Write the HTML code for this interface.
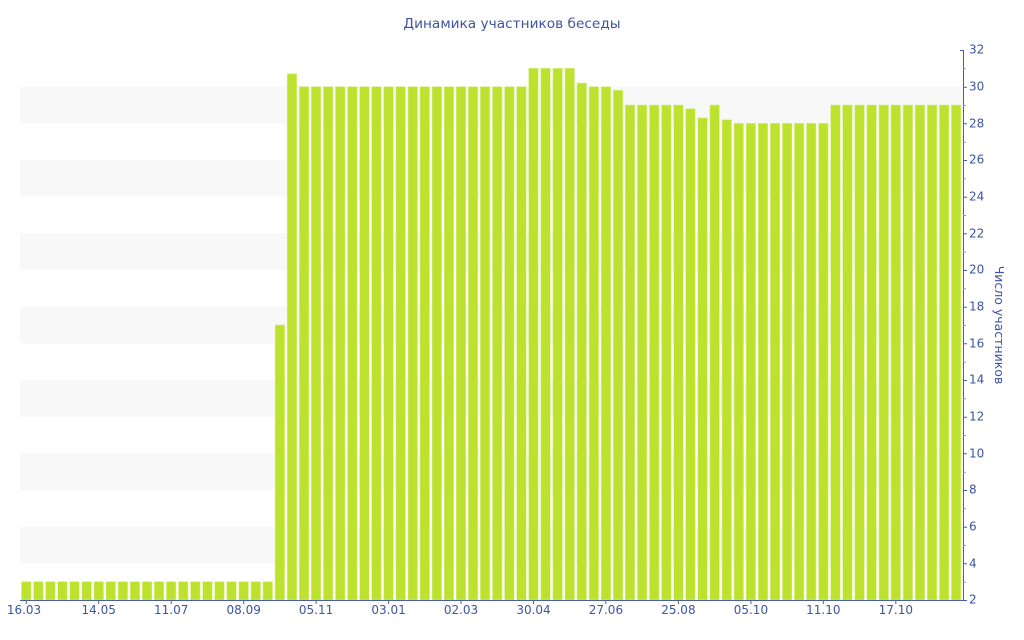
<!DOCTYPE html>
<html><head><meta charset="utf-8"><style>
html,body{margin:0;padding:0;background:#fff;}
svg{display:block;font-family:"DejaVu Sans","Liberation Sans",sans-serif;}
</style></head><body>
<svg width="1024" height="640" viewBox="0 0 1024 640">
<g fill="#f8f8f8">
<rect x="20" y="86.67" width="943" height="36.67"/>
<rect x="20" y="160" width="943" height="36.67"/>
<rect x="20" y="233.33" width="943" height="36.67"/>
<rect x="20" y="306.67" width="943" height="36.67"/>
<rect x="20" y="380" width="943" height="36.67"/>
<rect x="20" y="453.33" width="943" height="36.67"/>
<rect x="20" y="526.67" width="943" height="36.67"/>
</g>
<g fill="#bde22e" stroke="#d8ef8a" stroke-width="0.6">
<rect x="21.5" y="581.67" width="9.5" height="18.33"/>
<rect x="33.6" y="581.67" width="9.5" height="18.33"/>
<rect x="45.7" y="581.67" width="9.5" height="18.33"/>
<rect x="57.7" y="581.67" width="9.5" height="18.33"/>
<rect x="69.8" y="581.67" width="9.5" height="18.33"/>
<rect x="81.9" y="581.67" width="9.5" height="18.33"/>
<rect x="94.0" y="581.67" width="9.5" height="18.33"/>
<rect x="106.0" y="581.67" width="9.5" height="18.33"/>
<rect x="118.1" y="581.67" width="9.5" height="18.33"/>
<rect x="130.2" y="581.67" width="9.5" height="18.33"/>
<rect x="142.3" y="581.67" width="9.5" height="18.33"/>
<rect x="154.3" y="581.67" width="9.5" height="18.33"/>
<rect x="166.4" y="581.67" width="9.5" height="18.33"/>
<rect x="178.5" y="581.67" width="9.5" height="18.33"/>
<rect x="190.6" y="581.67" width="9.5" height="18.33"/>
<rect x="202.7" y="581.67" width="9.5" height="18.33"/>
<rect x="214.7" y="581.67" width="9.5" height="18.33"/>
<rect x="226.8" y="581.67" width="9.5" height="18.33"/>
<rect x="238.9" y="581.67" width="9.5" height="18.33"/>
<rect x="251.0" y="581.67" width="9.5" height="18.33"/>
<rect x="263.0" y="581.67" width="9.5" height="18.33"/>
<rect x="275.1" y="325" width="9.5" height="275"/>
<rect x="287.2" y="73.8" width="9.5" height="526.2"/>
<rect x="299.3" y="86.67" width="9.5" height="513.33"/>
<rect x="311.3" y="86.67" width="9.5" height="513.33"/>
<rect x="323.4" y="86.67" width="9.5" height="513.33"/>
<rect x="335.5" y="86.67" width="9.5" height="513.33"/>
<rect x="347.6" y="86.67" width="9.5" height="513.33"/>
<rect x="359.7" y="86.67" width="9.5" height="513.33"/>
<rect x="371.7" y="86.67" width="9.5" height="513.33"/>
<rect x="383.8" y="86.67" width="9.5" height="513.33"/>
<rect x="395.9" y="86.67" width="9.5" height="513.33"/>
<rect x="408.0" y="86.67" width="9.5" height="513.33"/>
<rect x="420.0" y="86.67" width="9.5" height="513.33"/>
<rect x="432.1" y="86.67" width="9.5" height="513.33"/>
<rect x="444.2" y="86.67" width="9.5" height="513.33"/>
<rect x="456.3" y="86.67" width="9.5" height="513.33"/>
<rect x="468.3" y="86.67" width="9.5" height="513.33"/>
<rect x="480.4" y="86.67" width="9.5" height="513.33"/>
<rect x="492.5" y="86.67" width="9.5" height="513.33"/>
<rect x="504.6" y="86.67" width="9.5" height="513.33"/>
<rect x="516.7" y="86.67" width="9.5" height="513.33"/>
<rect x="528.7" y="68.33" width="9.5" height="531.67"/>
<rect x="540.8" y="68.33" width="9.5" height="531.67"/>
<rect x="552.9" y="68.33" width="9.5" height="531.67"/>
<rect x="565.0" y="68.33" width="9.5" height="531.67"/>
<rect x="577.0" y="83.0" width="9.5" height="517"/>
<rect x="589.1" y="86.67" width="9.5" height="513.33"/>
<rect x="601.2" y="86.67" width="9.5" height="513.33"/>
<rect x="613.3" y="90.3" width="9.5" height="509.7"/>
<rect x="625.3" y="105" width="9.5" height="495"/>
<rect x="637.4" y="105" width="9.5" height="495"/>
<rect x="649.5" y="105" width="9.5" height="495"/>
<rect x="661.6" y="105" width="9.5" height="495"/>
<rect x="673.7" y="105" width="9.5" height="495"/>
<rect x="685.7" y="108.7" width="9.5" height="491.3"/>
<rect x="697.8" y="117.8" width="9.5" height="482.2"/>
<rect x="709.9" y="105" width="9.5" height="495"/>
<rect x="722.0" y="119.7" width="9.5" height="480.3"/>
<rect x="734.0" y="123.33" width="9.5" height="476.67"/>
<rect x="746.1" y="123.33" width="9.5" height="476.67"/>
<rect x="758.2" y="123.33" width="9.5" height="476.67"/>
<rect x="770.3" y="123.33" width="9.5" height="476.67"/>
<rect x="782.4" y="123.33" width="9.5" height="476.67"/>
<rect x="794.4" y="123.33" width="9.5" height="476.67"/>
<rect x="806.5" y="123.33" width="9.5" height="476.67"/>
<rect x="818.6" y="123.33" width="9.5" height="476.67"/>
<rect x="830.7" y="105" width="9.5" height="495"/>
<rect x="842.7" y="105" width="9.5" height="495"/>
<rect x="854.8" y="105" width="9.5" height="495"/>
<rect x="866.9" y="105" width="9.5" height="495"/>
<rect x="879.0" y="105" width="9.5" height="495"/>
<rect x="891.0" y="105" width="9.5" height="495"/>
<rect x="903.1" y="105" width="9.5" height="495"/>
<rect x="915.2" y="105" width="9.5" height="495"/>
<rect x="927.3" y="105" width="9.5" height="495"/>
<rect x="939.4" y="105" width="9.5" height="495"/>
<rect x="951.4" y="105" width="9.5" height="495"/>
</g>
<g stroke="#4a5fa3" stroke-width="1" fill="none">
<line x1="20" y1="600.5" x2="964" y2="600.5"/>
<line x1="963.5" y1="50" x2="963.5" y2="601"/>
<path d="M26.3 600v4M98.7 600v4M171.2 600v4M243.7 600v4M316.1 600v4M388.6 600v4M461 600v4M533.5 600v4M605.9 600v4M678.4 600v4M750.9 600v4M823.3 600v4M895.8 600v4"/>
<path d="M960 50.5h4M963 87.2h4M963 123.8h4M963 160.5h4M963 197.2h4M963 233.8h4M963 270.5h4M963 307.2h4M963 343.8h4M963 380.5h4M963 417.2h4M963 453.8h4M963 490.5h4M963 527.2h4M963 563.8h4M963 600.5h4"/>
<path stroke="#999" d="M963 68.8h3M963 105.5h3M963 142.2h3M963 178.8h3M963 215.5h3M963 252.2h3M963 288.8h3M963 325.5h3M963 362.2h3M963 398.8h3M963 435.5h3M963 472.2h3M963 508.8h3M963 545.5h3M963 582.2h3"/>
</g>
<g fill="#3d55a0" font-size="12" dominant-baseline="middle">
<text x="969" y="50">32</text><text x="969" y="87">30</text><text x="969" y="124">28</text><text x="969" y="160">26</text><text x="969" y="197">24</text><text x="969" y="234">22</text><text x="969" y="270">20</text><text x="969" y="307">18</text><text x="969" y="344">16</text><text x="969" y="380">14</text><text x="969" y="417">12</text><text x="969" y="454">10</text><text x="969" y="490">8</text><text x="969" y="527">6</text><text x="969" y="564">4</text><text x="969" y="600">2</text>
</g>
<g fill="#3d55a0" font-size="12" text-anchor="middle">
<text x="24" y="614">16.03</text><text x="98.7" y="614">14.05</text><text x="171.2" y="614">11.07</text><text x="243.7" y="614">08.09</text><text x="316.1" y="614">05.11</text><text x="388.6" y="614">03.01</text><text x="461" y="614">02.03</text><text x="533.5" y="614">30.04</text><text x="605.9" y="614">27.06</text><text x="678.4" y="614">25.08</text><text x="750.9" y="614">05.10</text><text x="823.3" y="614">11.10</text><text x="895.8" y="614">17.10</text>
</g>
<text x="512" y="28" fill="#3d55a0" font-size="13.7" text-anchor="middle">Динамика участников беседы</text>
<text transform="translate(995,325) rotate(90)" fill="#3d55a0" font-size="12.5" text-anchor="middle">Число участников</text>
</svg>
</body></html>
